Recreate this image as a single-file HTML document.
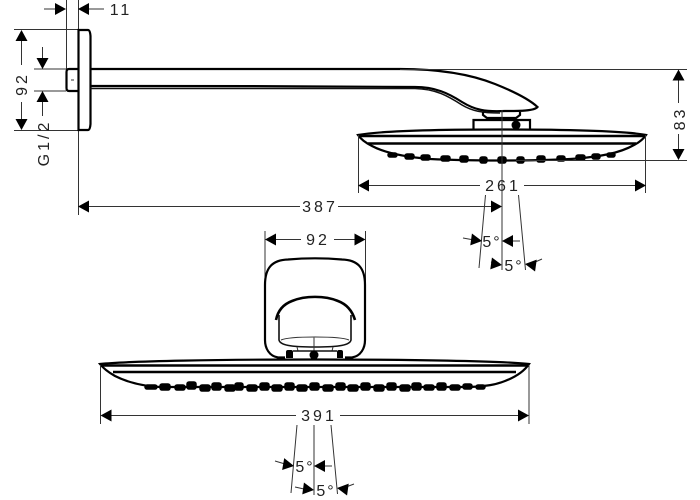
<!DOCTYPE html>
<html><head><meta charset="utf-8"><style>
html,body{margin:0;padding:0;background:#fff;width:700px;height:500px;overflow:hidden}
svg{display:block}
text{font-family:"Liberation Sans",sans-serif;font-size:16px;fill:#222;letter-spacing:3px;text-anchor:middle}
.t{stroke:#333;stroke-width:1;fill:none}
.m{stroke:#111;stroke-width:1.6;fill:none}
.b{stroke:#000;stroke-width:2.2;fill:none}
.h{stroke:#000;stroke-width:2.6;fill:none}
</style></head><body>
<svg width="700" height="500" viewBox="0 0 700 500" xmlns="http://www.w3.org/2000/svg">
<defs>
<path id="r" d="M0 0L-11 -6L-11 6Z" fill="#000"/>
</defs>
<!-- wall plate -->
<path class="t" d="M66.500 0V70M78.500 0V215M14 29.500H78M14 130.500H78M34 69H66M34 91H66"/>
<path class="b" d="M78.500 30H88Q90 30 90.500 36V124Q90 130 88 130H78.500Z"/>
<path class="b" d="M78 69H69Q66.500 69 66.500 72V88Q66.500 91 69 91H78"/>
<path class="t" d="M71 80H74"/>
<!-- 11 -->
<path class="t" d="M44 9H56M88 9H104"/>
<use href="#r" transform="translate(66,9)"/><use href="#r" transform="translate(78,9) rotate(180)"/>
<text x="121" y="15">11</text>
<!-- 92 vert -->
<path class="t" d="M21.500 39V65M21.500 102V121M42.500 47V59M42.500 101V116"/>
<use href="#r" transform="translate(21.500,30) rotate(-90)"/><use href="#r" transform="translate(21.500,130) rotate(90)"/>
<use href="#r" transform="translate(42.500,69) rotate(90)"/><use href="#r" transform="translate(42.500,91) rotate(-90)"/>
<text transform="translate(27,84) rotate(-90)">92</text>
<text transform="translate(49,143) rotate(-90)">G1/2</text>
<!-- arm -->
<path class="b" d="M90 69H400C440 69 470 74 495 84C515 92 530 100 537.500 107C534 111 520 111 505 111C485 112 475 110 462 102C448 93 435 87 415 87C375 86 130 86 90 86"/>
<path class="m" d="M90 88.500H415C436 89 448 96 462 105C472 111 482 113 500 113"/>
<path class="b" d="M483 112V115L487 118H516L520 115V112"/>
<path class="b" d="M473.500 129V120H530V129"/>
<circle cx="516" cy="125" r="4.500" fill="#000"/>
<!-- head side -->
<path class="b" d="M358 135C380 131 440 129.500 502 129.500C564 129.500 625 131 646 135C644 138 640 142 634 145C620 153 600 157 570 159C530 161 470 161 430 159C405 157 385 153 372 146C364 142 360 138 358 135Z"/>
<path class="h" d="M358 136H646M368 143.500H636"/>
<g fill="#000" stroke="#000" stroke-width="1.500">
<rect x="388" y="153" width="9" height="4" rx="2"/><rect x="405" y="154" width="9" height="5" rx="2"/><rect x="421" y="155" width="9" height="5" rx="2"/><rect x="441" y="156" width="9" height="5" rx="2"/><rect x="460" y="156" width="8" height="6" rx="2"/><rect x="480" y="157" width="7" height="6" rx="2"/><rect x="498" y="157" width="8" height="6" rx="2"/><rect x="517" y="157" width="7" height="6" rx="2"/><rect x="537" y="156" width="8" height="6" rx="2"/><rect x="557" y="156" width="8" height="5" rx="2"/><rect x="576" y="155" width="9" height="5" rx="2"/><rect x="592" y="154" width="8" height="5" rx="2"/><rect x="607" y="153" width="8" height="4" rx="2"/>
</g>
<!-- 83 -->
<path class="t" d="M400 69.500H687M516 160.500H687M678.500 79V103M678.500 134V150"/>
<use href="#r" transform="translate(678.500,69.500) rotate(-90)"/><use href="#r" transform="translate(678.500,160) rotate(90)"/>
<text transform="translate(685,118.500) rotate(-90)">83</text>
<!-- 261 -->
<path class="t" d="M358.500 135V193M645.500 135V193M368 185.500H480M524 185.500H636"/>
<use href="#r" transform="translate(358,185.500) rotate(180)"/><use href="#r" transform="translate(646,185.500)"/>
<text x="503" y="191">261</text>
<!-- 387 -->
<path class="t" d="M88 206.500H300M338 206.500H492"/>
<use href="#r" transform="translate(78,206.500) rotate(180)"/><use href="#r" transform="translate(502,206.500)"/>
<text x="320" y="212">387</text>
<!-- angles top -->
<path class="t" d="M502 110V270M485.500 195L479 268M518.500 195L525.500 270"/>
<path class="t" d="M463 238L474 240M510 241H520M491 262L494 263M533 263L542 259"/>
<use href="#r" transform="translate(482,241) rotate(8)"/><use href="#r" transform="translate(502,241) rotate(180)"/>
<use href="#r" transform="translate(502,265) rotate(8)"/><use href="#r" transform="translate(525,264) rotate(188)"/>
<text x="492" y="247" style="letter-spacing:2px">5°</text>
<text x="514" y="271" style="letter-spacing:2px">5°</text>
<!-- front 92 -->
<path class="t" d="M265 231V300M365.500 231V300M275 239.500H301M334 239.500H355"/>
<use href="#r" transform="translate(265,239.500) rotate(180)"/><use href="#r" transform="translate(365.500,239.500)"/>
<text x="318" y="245">92</text>
<!-- bracket -->
<path class="b" d="M285 357.500H278C269 356 265 348 265 340V285C265 268 272 260 288 259.500C305 258 325 258 342 259.500C358 260 365 268 365 285V340C365 348 361 356 352 357.500H345"/>
<path class="h" d="M276 320C278 310 284 304 292 301C305 295.500 325 295.500 338 301C346 304 352 310 355 320"/>
<path class="m" d="M279 315V340C280 345 290 347 315 347C340 347 350 345 351 340V315"/>
<path class="t" d="M281 340C290 336 340 336 349 340M297 347L298 351H332L333 347M314 337V360"/>
<path d="M286 358V352Q286 350 288 350H291Q293 350 293 352V358ZM337 358V352Q337 350 339 350H341Q343 350 343 352V358Z" fill="#000"/>
<path class="m" d="M293 351H337"/>
<circle cx="314" cy="355" r="4.500" fill="#000"/>
<!-- head front -->
<path class="b" d="M100 364C130 361 220 359.500 315 359.500C410 359.500 500 361 529 364C525 370 518 376 505 381C495 385 487 386 470 387H160C140 386 125 381 115 376C108 372 103 368 100 364Z"/>
<path class="h" d="M100 365.500H529M113 372H516"/>
<g fill="#000" stroke="#000" stroke-width="1.500">
<rect x="145" y="385" width="12" height="4" rx="2"/><rect x="160" y="384" width="10" height="6" rx="2"/><rect x="175" y="385" width="10" height="5" rx="2"/><rect x="187" y="382" width="9" height="7" rx="2"/><rect x="200" y="385" width="10" height="6" rx="2"/><rect x="212" y="383" width="9" height="7" rx="2"/><rect x="225" y="385" width="10" height="6" rx="2"/><rect x="235" y="383" width="8" height="7" rx="2"/><rect x="247" y="385" width="10" height="6" rx="2"/><rect x="260" y="383" width="9" height="7" rx="2"/><rect x="272" y="385" width="10" height="6" rx="2"/><rect x="285" y="383" width="9" height="7" rx="2"/><rect x="297" y="385" width="10" height="6" rx="2"/><rect x="310" y="383" width="9" height="7" rx="2"/><rect x="323" y="385" width="10" height="6" rx="2"/><rect x="336" y="383" width="9" height="7" rx="2"/><rect x="348" y="385" width="10" height="6" rx="2"/><rect x="361" y="383" width="9" height="7" rx="2"/><rect x="374" y="385" width="10" height="6" rx="2"/><rect x="387" y="383" width="9" height="7" rx="2"/><rect x="400" y="385" width="10" height="6" rx="2"/><rect x="412" y="383" width="9" height="7" rx="2"/><rect x="424" y="385" width="10" height="5" rx="2"/><rect x="437" y="383" width="9" height="7" rx="2"/><rect x="450" y="385" width="10" height="5" rx="2"/><rect x="463" y="384" width="9" height="5" rx="2"/><rect x="476" y="385" width="9" height="4" rx="2"/>
</g>
<!-- 391 -->
<path class="t" d="M100.500 365V424M529 365V424M110 415.500H296M340 415.500H519"/>
<use href="#r" transform="translate(100.500,415.500) rotate(180)"/><use href="#r" transform="translate(529,415.500)"/>
<text x="319" y="421">391</text>
<!-- angles bottom -->
<path class="t" d="M297 425L291 493M314 425V495M331 425L337.500 494M275 461L285 464M325 466H332M295 487L304 489M346 487L354 484"/>
<use href="#r" transform="translate(294,466) rotate(10)"/><use href="#r" transform="translate(314,466) rotate(180)"/>
<use href="#r" transform="translate(314,490) rotate(8)"/><use href="#r" transform="translate(337,488) rotate(188)"/>
<text x="305" y="472" style="letter-spacing:2px">5°</text>
<text x="326" y="496" style="letter-spacing:2px">5°</text>
</svg>
</body></html>
